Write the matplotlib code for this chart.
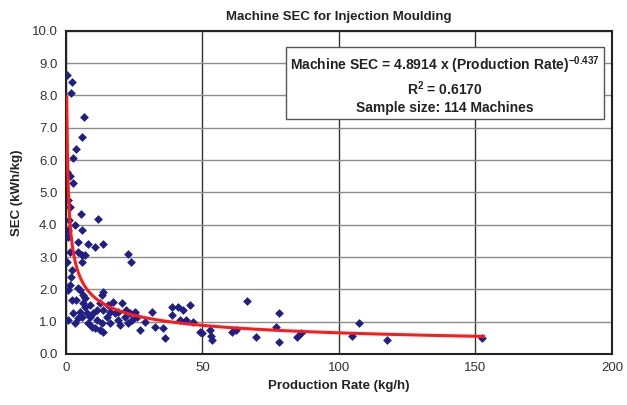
import numpy as np
import matplotlib
matplotlib.use("Agg")
import matplotlib.pyplot as plt

plt.rcParams["font.family"] = ["Liberation Sans", "DejaVu Sans"]
plt.rcParams["mathtext.fontset"] = "custom"
plt.rcParams["mathtext.rm"] = "Liberation Sans"
plt.rcParams["mathtext.bf"] = "Liberation Sans:bold"

# production rate (kg/h) and SEC (kWh/kg)
rate = [0.4, 2.2, 1.8, 6.6, 5.9, 3.7, 2.6, 0.4, 1.5, 2.6,
        1.5, 5.5, 11.7, 0.7, 5.9, 3.3, 0.7, 4.4, 8.0, 10.6,
        13.5, 1.5, 4.4, 5.9, 6.9, 5.9, 22.7, 23.8, 2.2, 1.8,
        5.1, 6.2, 13.5, 13.2, 6.2, 6.9, 12.4, 17.2, 20.5, 2.6,
        5.1, 7.7, 9.9, 13.5, 16.1, 19.0, 23.4, 3.3, 8.0, 9.5,
        11.3, 13.2, 13.5, 16.1, 19.7, 22.7, 24.1, 21.6, 5.9, 15.0,
        25.2, 31.4, 38.8, 41.0, 42.8, 45.3, 38.8, 41.7, 32.5, 35.5,
        36.2, 46.4, 49.0, 49.7, 53.4, 52.7, 53.0, 60.7, 62.5, 66.5,
        69.8, 77.1, 78.2, 78.2, 84.8, 86.3, 104.9, 107.5, 117.7, 152.5,
        4.4, 1.5, 3.7, 0.7, 4.4, 8.8, 10.6, 17.9, 26.0, 28.9,
        6.9, 8.8, 11.3, 15.4, 0.4, 0.7, 2.2, 12.4, 19.0, 21.9,
        0.7, 1.1, 27.1, 43.9]
sec = [8.64, 8.42, 8.08, 7.34, 6.72, 6.35, 6.07, 5.63, 5.51, 5.29,
       4.55, 4.33, 4.18, 3.84, 3.84, 3.99, 3.62, 3.47, 3.41, 3.31,
       3.41, 3.16, 3.16, 3.07, 3.07, 2.85, 3.10, 2.85, 2.60, 2.38,
       1.98, 1.83, 1.92, 1.83, 1.58, 1.46, 1.58, 1.61, 1.58, 1.27,
       1.30, 1.27, 1.27, 1.36, 1.30, 1.30, 1.27, 0.96, 0.96, 0.84,
       1.05, 0.96, 0.68, 0.96, 0.90, 0.96, 1.05, 1.15, 1.15, 1.15,
       1.30, 1.30, 1.46, 1.46, 1.36, 1.52, 1.21, 1.05, 0.84, 0.80,
       0.50, 0.99, 0.68, 0.65, 0.43, 0.74, 0.56, 0.68, 0.74, 1.64,
       0.53, 0.84, 1.27, 0.37, 0.53, 0.65, 0.56, 0.96, 0.43, 0.50,
       2.04, 2.14, 1.67, 1.05, 1.11, 1.15, 0.80, 1.27, 1.15, 0.99,
       1.73, 1.52, 1.36, 1.52, 2.85, 1.98, 1.67, 0.74, 1.05, 1.36,
       4.77, 4.15, 0.74, 1.05]

coef = 4.8914
expo = -0.437

fig = plt.figure(figsize=(6.27, 4.05), dpi=100)
ax = fig.add_axes([0.105, 0.126, 0.871, 0.798])

ax.scatter(rate, sec, marker="D", s=20, color="#1f1f85", zorder=3, linewidths=0)
xs = np.linspace(0.33, 153, 600)
ax.plot(xs, coef * xs ** expo, color="#ff1a1a", lw=2.2, zorder=4)

ax.set_xlim(0, 200)
ax.set_ylim(0, 10)
ax.set_xticks([0, 50, 100, 150, 200])
ax.set_yticks(np.arange(0, 10.01, 1.0))
ax.set_yticklabels([f"{v:.1f}" for v in np.arange(0, 10.01, 1.0)])
ax.yaxis.grid(True, color="#8c8c8c", lw=1.0)
ax.xaxis.grid(True, color="#333333", lw=1.0)
ax.set_axisbelow(True)
for sp in ax.spines.values():
    sp.set_linewidth(1.5)
    sp.set_color("#222222")
ax.tick_params(length=0, labelsize=9.5, colors="#333333", pad=6)

ax.set_xlabel("Production Rate (kg/h)", fontsize=9.5, fontweight="bold", color="#222222", labelpad=4)
ax.set_ylabel("SEC (kWh/kg)", fontsize=9.5, fontweight="bold", color="#222222", labelpad=6)
ax.set_title("Machine SEC for Injection Moulding", fontsize=9.5, fontweight="bold", color="#222222", pad=8)

label = ("Machine SEC = 4.8914 x (Production Rate)$^{\\mathbf{-0.437}}$\n"
         "R$^{\\mathbf{2}}$ = 0.6170\nSample size: 114 Machines")
ax.text(0.694, 0.834, label, transform=ax.transAxes, ha="center", va="center",
        fontsize=10, fontweight="bold", color="#222222", linespacing=1.25, zorder=5,
        bbox=dict(boxstyle="square,pad=0.28", fc="white", ec="#555555", lw=1.0))

fig.savefig("out.png", dpi=100)
